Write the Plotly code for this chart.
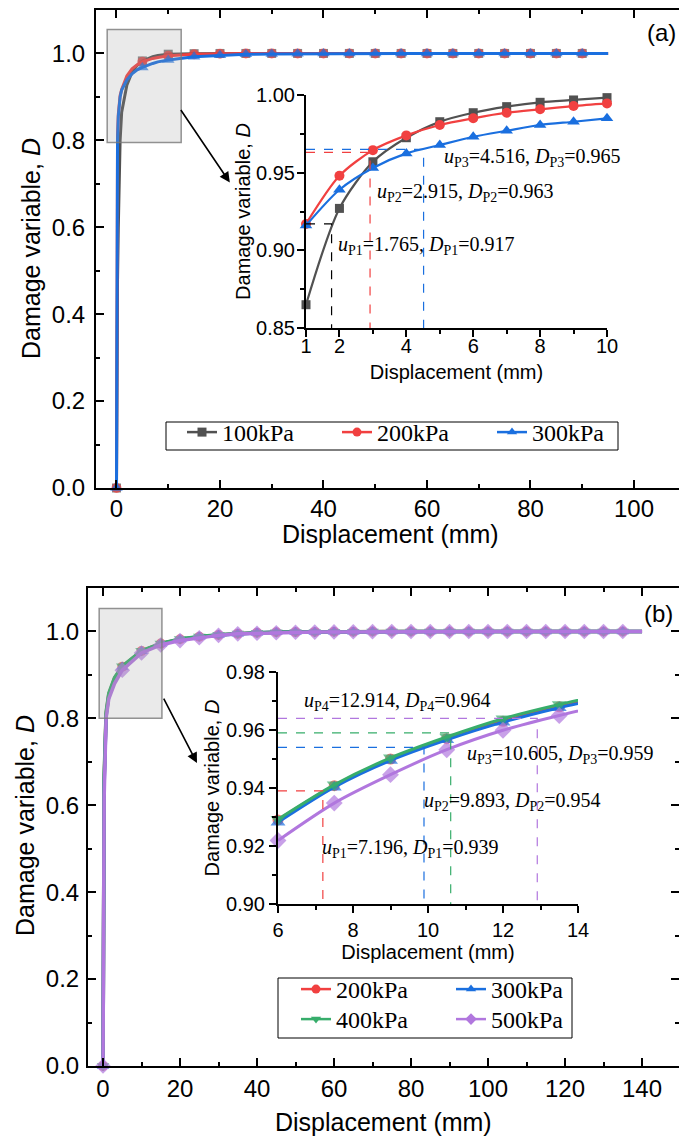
import plotly.graph_objects as go

W, H = 679, 1137

# ---------------- Panel (a): 100 / 200 / 300 kPa ----------------
u_a = [0, 0.1, 0.2, 0.35, 0.5, 0.7, 1, 2, 3, 4, 5, 6, 7, 8, 9, 10,
       15, 20, 25, 30, 35, 40, 45, 50, 55, 60, 65, 70, 75, 80, 85, 90, 95]
D_a100 = [0, 0.35, 0.48, 0.60, 0.70, 0.80, 0.865, 0.927, 0.957, 0.9725, 0.9828,
          0.9886, 0.9925, 0.9953, 0.9968, 0.9983, 0.9995] + [1.0] * 16
D_a200 = [0, 0.74, 0.81, 0.86, 0.885, 0.903, 0.917, 0.948, 0.9645, 0.974, 0.9807,
          0.985, 0.9886, 0.9908, 0.9929, 0.9946, 0.998, 0.9993] + [1.0] * 15
D_a300 = [0, 0.72, 0.80, 0.855, 0.88, 0.90, 0.916, 0.939, 0.953, 0.9624, 0.9678,
          0.9731, 0.977, 0.9807, 0.9828, 0.985, 0.9925, 0.996, 0.998, 0.999,
          0.9995] + [1.0] * 12
names_a = ["100kPa", "200kPa", "300kPa"]

# characteristic points of panel (a)
uP_a = [1.765, 2.915, 4.516]
DP_a = [0.917, 0.963, 0.965]

# ---------------- Panel (b): 200 / 300 / 400 / 500 kPa ----------------
u_b = [0, 0.1, 0.3, 0.8, 1.5, 3, 5, 10, 15,
       20, 25, 30, 35, 40, 45, 50, 55, 60, 65, 70, 75, 80, 85, 90, 95,
       100, 105, 110, 115, 120, 125, 130, 135, 140]
D_b200 = [0, 0.50, 0.66, 0.81, 0.855, 0.892, 0.919, 0.955, 0.972,
          0.982, 0.988, 0.992, 0.995, 0.997, 0.998, 0.9985, 0.999, 0.9993,
          0.9995, 0.9997] + [1.0] * 14
D_b300 = [0, 0.49, 0.65, 0.805, 0.852, 0.890, 0.918, 0.9545, 0.9715,
          0.9815, 0.9877, 0.9918, 0.9948, 0.9968, 0.998, 0.9985, 0.999, 0.9993,
          0.9995, 0.9997] + [1.0] * 14
D_b400 = [0, 0.51, 0.67, 0.815, 0.858, 0.894, 0.920, 0.9555, 0.9725,
          0.9825, 0.9885, 0.9922, 0.9952, 0.997, 0.998, 0.9986, 0.999, 0.9993,
          0.9995, 0.9997] + [1.0] * 14
D_b500 = [0, 0.45, 0.62, 0.80, 0.845, 0.880, 0.911, 0.9505, 0.969,
          0.979, 0.9855, 0.991, 0.9945, 0.996, 0.997, 0.998, 0.9985, 0.999,
          0.9993, 0.9996] + [1.0] * 14
names_b = ["200kPa", "300kPa", "400kPa", "500kPa"]

# magnified readings of panel (b)
u_in_b = [6, 7.5, 9, 10.5, 12, 13.5, 15]
Din_b200 = [0.9290, 0.9408, 0.9500, 0.9570, 0.9630, 0.9680, 0.9722]
Din_b300 = [0.9282, 0.9403, 0.9495, 0.9566, 0.9627, 0.9677, 0.9718]
Din_b400 = [0.9292, 0.9411, 0.9504, 0.9576, 0.9639, 0.9688, 0.9730]
Din_b500 = [0.9219, 0.9348, 0.9446, 0.9532, 0.9599, 0.9650, 0.9695]

# characteristic points of panel (b)
uP_b = [7.196, 9.893, 10.605, 12.914]
DP_b = [0.939, 0.954, 0.959, 0.964]

# ---------------- styling ----------------
GRAY, RED, BLUE, GREEN, PURPLE = "#515151", "#F14040", "#1A6FDF", "#37AD6B", "#B177DE"
SANS = "Liberation Sans, Arial, sans-serif"
SERIF = "Liberation Serif, Times New Roman, serif"

fig = go.Figure()


def main_series(x, y, name, color, symbol, xa, ya, legend, msize, lw, xmax_mark):
    sizes = [msize if (v % 5 == 0 and v <= xmax_mark) else 0 for v in x]
    fig.add_trace(go.Scatter(
        x=x, y=y, mode="lines+markers", xaxis=xa, yaxis=ya, showlegend=False,
        line=dict(color=color, width=lw),
        marker=dict(symbol=symbol, size=sizes, color=color, line=dict(width=0)),
        cliponaxis=False, hoverinfo="skip"))
    # legend entry
    fig.add_trace(go.Scatter(
        x=[None], y=[None], mode="lines+markers", name=name, xaxis=xa, yaxis=ya,
        legend=legend, line=dict(color=color, width=2.5),
        marker=dict(symbol=symbol, size=9, color=color)))


def inset_series(x, y, color, symbol, xa, ya, msize, lw, sizes=None):
    fig.add_trace(go.Scatter(
        x=x, y=y, mode="lines+markers", xaxis=xa, yaxis=ya, showlegend=False,
        line=dict(color=color, width=lw, shape="spline", smoothing=0.8),
        marker=dict(symbol=symbol, size=sizes if sizes else msize, color=color,
                    line=dict(width=0)),
        cliponaxis=False, hoverinfo="skip"))


def guide(uP, DP, x0, y0, color, xa, ya):
    fig.add_trace(go.Scatter(
        x=[x0, uP, uP], y=[DP, DP, y0], mode="lines", xaxis=xa, yaxis=ya,
        showlegend=False, line=dict(color=color, width=1.2, dash="dash"),
        hoverinfo="skip"))


# panel (a) main curves
cols_a = [GRAY, RED, BLUE]
syms_a = ["square", "circle", "triangle-up"]
msz_a = [9, 10, 11]
for D, nm, c, s, ms in zip([D_a100, D_a200, D_a300], names_a, cols_a, syms_a, msz_a):
    main_series(u_a, D, nm, c, s, "x", "y", "legend", ms, 3, 90)

# panel (a) inset
in_idx = [i for i, v in enumerate(u_a) if 1 <= v <= 10]
for D, c, s, ms in zip([D_a100, D_a200, D_a300], cols_a, syms_a, [9, 10, 11]):
    inset_series([u_a[i] for i in in_idx], [D[i] for i in in_idx], c, s, "x3", "y3", ms, 2.2)
for uP, DP, c in zip(uP_a, DP_a, ["black", RED, BLUE]):
    guide(uP, DP, 1, 0.85, c, "x3", "y3")

# panel (b) main curves
cols_b = [RED, BLUE, GREEN, PURPLE]
syms_b = ["circle", "triangle-up", "triangle-down", "diamond"]
msz_b = [10, 11, 11, 12]
legs_b = ["legend2", "legend2", "legend3", "legend3"]
for D, nm, c, s, lg, ms in zip([D_b200, D_b300, D_b400, D_b500], names_b, cols_b,
                               syms_b, legs_b, msz_b):
    main_series(u_b, D, nm, c, s, "x2", "y2", lg, ms, 3.5, 135)

# panel (b) inset
for D, c, s, ms in zip([Din_b200, Din_b300, Din_b400, Din_b500], cols_b, syms_b,
                       [11, 13, 13, 13]):
    sz = [ms if v <= 14 else 0 for v in u_in_b]
    inset_series(u_in_b, D, c, s, "x4", "y4", ms, 3, sizes=sz)
for uP, DP, c in zip(uP_b, DP_b, [RED, BLUE, GREEN, PURPLE]):
    guide(uP, DP, 6, 0.90, c, "x4", "y4")


# ---------------- axes ----------------
def px_x(p):
    return p / W


def px_y(p):
    return 1 - p / H


def main_axis(**kw):
    d = dict(showline=True, linecolor="black", linewidth=2, ticks="inside",
             ticklen=8, tickwidth=1.5, tickcolor="black", showgrid=False,
             zeroline=False, automargin=False,
             tickfont=dict(family=SANS, size=24, color="black"),
             minor=dict(ticks="inside", ticklen=4, tickwidth=1.5,
                        tickcolor="black", showgrid=False))
    d.update(kw)
    return d


def inset_axis(**kw):
    d = dict(showline=True, linecolor="black", linewidth=2, ticks="outside",
             ticklen=7, tickwidth=1.5, tickcolor="black", showgrid=False,
             zeroline=False, automargin=False,
             tickfont=dict(family=SANS, size=20, color="black"),
             mirror=False)
    d.update(kw)
    return d


def title(text, size, standoff):
    return dict(text=text, font=dict(family=SANS, size=size, color="black"), standoff=standoff)


XT = "Displacement (mm)"
YT = "Damage variable, <i>D</i>"

fig.update_layout(
    xaxis=main_axis(domain=[px_x(96), 1], range=[-3.96, 108.7], anchor="y",
                    tickvals=[0, 20, 40, 60, 80, 100], mirror="allticks",
                    ticklabelstandoff=-2,
                    minor_tickvals=list(range(10, 110, 20))),
    yaxis=main_axis(domain=[px_y(488), px_y(10)], range=[0, 1.1], anchor="x",
                    tickvals=[0, 0.2, 0.4, 0.6, 0.8, 1.0], tickformat=".1f",
                    ticklabelstandoff=4,
                    minor_tickvals=[0.1, 0.3, 0.5, 0.7, 0.9]),
    xaxis2=main_axis(domain=[px_x(88), 1], range=[-3.9, 149.6], anchor="y2",
                     tickvals=list(range(0, 141, 20)), mirror="allticks",
                     minor_tickvals=list(range(10, 150, 20))),
    yaxis2=main_axis(domain=[px_y(1066), px_y(588)], range=[0, 1.1], anchor="x2",
                     tickvals=[0, 0.2, 0.4, 0.6, 0.8, 1.0], tickformat=".1f",
                     mirror="allticks", ticklabelstandoff=2,
                     minor_tickvals=[0.1, 0.3, 0.5, 0.7, 0.9]),
    xaxis3=inset_axis(domain=[px_x(306), px_x(607)], range=[1, 10], anchor="y3",
                      tickvals=[1, 2, 4, 6, 8, 10], ticklabelstandoff=-8,
                      minor=dict(ticks="outside", ticklen=4, tickwidth=1.5,
                                 tickcolor="black", tickvals=[3, 5, 7, 9]),
                      title=title(XT, 20, 9)),
    yaxis3=inset_axis(domain=[px_y(328), px_y(95)], range=[0.85, 1.0], anchor="x3",
                      tickvals=[0.85, 0.90, 0.95, 1.00], tickformat=".2f",
                      ticklabelstandoff=-2,
                      minor=dict(ticks="outside", ticklen=4, tickwidth=1.5,
                                 tickcolor="black", tickvals=[0.875, 0.925, 0.975]),
                      title=title(YT, 20, 0)),
    xaxis4=inset_axis(domain=[px_x(278), px_x(578)], range=[6, 14], anchor="y4",
                      tickvals=[6, 8, 10, 12, 14],
                      minor=dict(ticks="outside", ticklen=4, tickwidth=1.5,
                                 tickcolor="black", tickvals=[7, 9, 11, 13]),
                      title=title(XT, 20, 2)),
    yaxis4=inset_axis(domain=[px_y(904), px_y(672)], range=[0.90, 0.98], anchor="x4",
                      tickvals=[0.90, 0.92, 0.94, 0.96, 0.98], tickformat=".2f",
                      minor=dict(ticks="outside", ticklen=4, tickwidth=1.5,
                                 tickcolor="black", tickvals=[0.91, 0.93, 0.95, 0.97]),
                      title=title(YT, 20, 1)),
)

leg_font = dict(family=SERIF, size=24, color="black")
leg_common = dict(orientation="h", xanchor="left", yanchor="top", bgcolor="rgba(0,0,0,0)",
                  font=leg_font, entrywidth=110, borderwidth=0)
fig.update_layout(
    width=W, height=H, margin=dict(l=0, r=0, t=0, b=0),
    paper_bgcolor="white", plot_bgcolor="rgba(0,0,0,0)",
    font=dict(family=SANS, color="black"),
    legend=dict(x=px_x(182), y=px_y(410), **leg_common),
    legend2=dict(x=px_x(296), y=px_y(967), **leg_common),
    legend3=dict(x=px_x(296), y=px_y(997), **leg_common),
    showlegend=True,
)

# main axis titles placed at fixed positions beside each panel
title_font = dict(family=SANS, size=25, color="black")
for x, y, ang, txt in [(391, 534, 0, XT), (383, 1122, 0, XT),
                       (31, 249, -90, YT), (25, 826, -90, YT)]:
    fig.add_annotation(x=px_x(x), y=px_y(y), xref="paper", yref="paper", text=txt,
                       textangle=ang, xanchor="center", yanchor="middle",
                       showarrow=False, font=title_font)

# zoom boxes and legend frames
fig.add_shape(type="rect", xref="x", yref="y", x0=-1.8, x1=12.5, y0=0.795, y1=1.055,
              fillcolor="rgba(160,160,160,0.22)", line=dict(color="rgba(120,120,120,0.8)", width=1.5),
              layer="above")
fig.add_shape(type="rect", xref="x2", yref="y2", x0=-1.0, x1=15.3, y0=0.80, y1=1.053,
              fillcolor="rgba(160,160,160,0.22)", line=dict(color="rgba(120,120,120,0.8)", width=1.5),
              layer="above")
fig.add_shape(type="rect", xref="paper", yref="paper", x0=px_x(166), x1=px_x(618),
              y0=px_y(450), y1=px_y(422), line=dict(color="black", width=1), layer="above")
fig.add_shape(type="rect", xref="paper", yref="paper", x0=px_x(278), x1=px_x(572),
              y0=px_y(1038), y1=px_y(978), line=dict(color="black", width=1), layer="above")

# arrows from zoom boxes to insets
fig.add_annotation(x=21.9, y=0.703, xref="x", yref="y", ax=-50, ay=-74, text="",
                   showarrow=True, arrowhead=2, arrowsize=1.3, arrowwidth=1.6, arrowcolor="black")
fig.add_annotation(x=24.4, y=0.697, xref="x2", yref="y2", ax=-34, ay=-66, text="",
                   showarrow=True, arrowhead=2, arrowsize=1.3, arrowwidth=1.6, arrowcolor="black")

# panel labels
fig.add_annotation(x=px_x(661), y=px_y(33), xref="paper", yref="paper", text="(a)",
                   xanchor="center", yanchor="middle",
                   showarrow=False, font=dict(family=SANS, size=24, color="black"))
fig.add_annotation(x=px_x(658), y=px_y(613), xref="paper", yref="paper", text="(b)",
                   xanchor="center", yanchor="middle",
                   showarrow=False, font=dict(family=SANS, size=24, color="black"))


def point_label(k, uP, DP, x, y, xa, ya):
    txt = (f"<i>u</i><sub>P{k}</sub>={uP:.3f}, "
           f"<i>D</i><sub>P{k}</sub>={DP:.3f}")
    fig.add_annotation(x=x, y=y, xref=xa, yref=ya, text=txt, showarrow=False,
                       xanchor="left", yanchor="middle",
                       font=dict(family=SERIF, size=20, color="black"))


# label placement inside the insets (data coordinates of the inset axes)
pos_a = [(1.9, 0.9028), (3.06, 0.9375), (5.07, 0.960)]
for k, (uP, DP, (x, y)) in enumerate(zip(uP_a, DP_a, pos_a), start=1):
    point_label(k, uP, DP, x, y, "x3", "y3")
pos_b = [(7.12, 0.919), (9.84, 0.9352), (10.99, 0.9514), (6.64, 0.9697)]
for k, (uP, DP, (x, y)) in enumerate(zip(uP_b, DP_b, pos_b), start=1):
    point_label(k, uP, DP, x, y, "x4", "y4")

fig.write_html(
    "out.html",
    post_script="document.documentElement.style.margin='0';"
                "document.body.style.margin='0';"
                "document.body.style.overflow='hidden';",
)
